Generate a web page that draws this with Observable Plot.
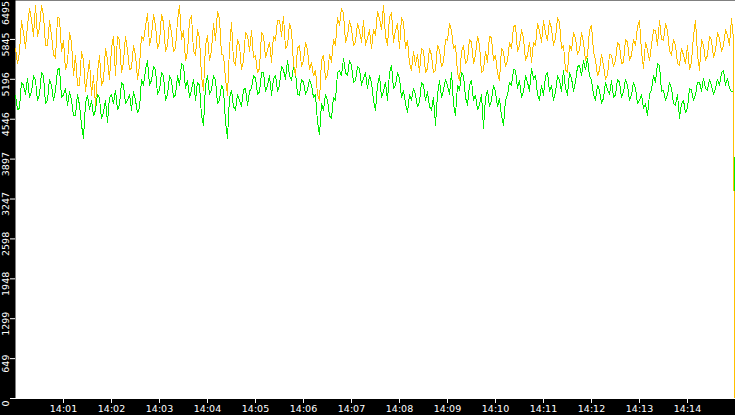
<!DOCTYPE html>
<html><head><meta charset="utf-8">
<script src="https://cdn.jsdelivr.net/npm/d3@7"></script>
<script src="https://cdn.jsdelivr.net/npm/@observablehq/plot@0.6"></script>
<style>html,body{margin:0;padding:0;background:#000;overflow:hidden;} #chart{width:735px;height:415px;}</style>
</head><body><div id="chart"></div>
<script>
const startTime = "14:00:00";
const endTime = "14:15:00";
const stepSeconds = 2.5;
const lastSecond = 899;

const orangeValues = [
  5700,5450,5640,6150,5960,5700,6070,6350,6155,5900,
  6400,5900,6025,6400,6240,5750,5750,6150,5910,5600,
  5540,6200,6190,5650,5830,5350,5475,5950,5800,5250,
  5590,5100,5100,5650,5505,5000,5260,5500,4940,5250,
  4775,5300,5585,5100,5180,5700,5505,5200,5700,5900,
  5260,5900,5830,5300,5475,5900,5670,5350,5375,5750,
  5590,5200,5425,5900,5830,6050,6270,5750,5910,6250,
  6075,5700,5800,6250,6120,5650,5750,6150,5960,5650,
  5700,6150,6400,5850,5990,5500,5635,6150,6235,5650,
  5590,6000,5865,5250,5020,5750,5910,5500,5670,6100,
  5830,6300,6190,5600,5590,5200,4940,5700,6125,5500,
  5425,5850,5750,5350,5505,5950,5910,5650,5990,5550,
  5590,5300,5375,5950,5910,5550,5670,5800,5475,5900,
  5830,6150,6155,5900,6220,5700,5750,6100,5990,5450,
  5260,5700,5750,5400,5505,5800,5670,5350,5475,5250,
  5345,4950,4855,5500,5590,5200,5260,5600,5475,5850,
  5750,6200,6075,6350,6270,5800,5910,6150,6025,5750,
  5800,6100,5990,5800,6155,5750,5865,6000,5700,6000,
  5910,6300,6190,6000,6400,5900,5750,6200,6285,5800,
  5990,6100,5700,6200,6125,5700,5830,5450,5345,5650,
  5425,5600,5310,5700,5670,5300,5375,5700,5590,5300,
  5345,5750,5670,5400,5475,5850,5830,6100,5990,5700,
  5750,5300,5180,5650,5750,5450,5505,5850,5800,5450,
  5590,5900,5750,5300,5345,5650,5475,5900,5865,5500,
  5590,5300,5180,5700,5635,5400,5505,5800,5700,6050,
  6075,5650,5750,6000,5865,5500,5590,5800,5475,5800,
  5750,6100,5990,5800,6155,5950,5830,6150,6025,5750,
  5865,6200,6125,5700,5750,5350,5310,5750,5670,5950,
  5865,5600,5670,5950,5800,5500,5590,6000,6075,5650,
  5505,5250,5345,5600,5425,5200,5260,5600,5590,5400,
  5505,5800,5750,5450,5475,5850,5800,5500,5590,5850,
  5750,6050,6155,5650,5375,5800,5670,5500,5750,6000,
  5990,5750,6155,5850,5830,6100,5990,5650,5590,5850,
  5750,5450,5425,5700,5590,5450,5750,5350,5475,5900,
  6155,5600,5345,5850,5750,5500,5590,5900,5830,5550,
  5670,5950,5865,5650,5750,6000,5910,5750,6190,5850
];
const orangeLast = 0;

const greenValues = [
  4940,4700,4725,5150,5100,4950,5215,4900,4990,5250,
  5180,4850,4940,5300,5260,4800,4855,5200,5100,4850,
  5020,5350,5375,4900,4940,5050,4775,5000,4855,4600,
  4615,4950,4775,4450,4240,4800,4940,4700,4855,4600,
  4695,4950,4890,4550,4660,4850,4500,4900,4940,4800,
  5020,4700,4775,5150,5100,4800,4855,4950,4695,5000,
  4855,4650,4725,5200,5100,5350,5505,5100,5180,5400,
  5345,4950,5020,5300,5260,4850,4940,5250,5180,4900,
  4940,5250,5100,5450,5425,5050,5180,4900,5020,5200,
  4855,5150,5100,4600,4450,5100,5260,4950,5020,5250,
  5180,4800,4855,5100,5020,4500,4240,4900,5020,4750,
  4695,4950,4855,4750,5020,5050,4775,5000,5050,5250,
  5215,4950,4990,5300,5310,5000,5100,5250,4940,5200,
  5260,5000,5100,5400,5345,5200,5505,5250,5180,5400,
  5310,4950,4940,5200,5150,4950,5020,5200,5100,4900,
  4940,4500,4290,4800,4695,4950,4855,4600,4565,4900,
  4855,5300,5345,5250,5540,5300,5260,5500,5425,5150,
  5180,5400,5375,5100,5215,5300,5050,5250,5150,4850,
  4695,5100,5260,4900,4990,5150,4855,5300,5425,5050,
  5100,5300,5215,4900,5020,4800,4660,4950,4855,5050,
  4940,4750,4825,5150,5100,4850,4990,4750,4695,4900,
  4450,4950,5180,4900,5020,5200,5100,4950,5310,4800,
  4610,5100,5020,5300,5260,4900,4775,5100,5180,4850,
  4940,4700,4775,4950,4400,4900,5020,4750,4855,5100,
  4990,4750,4890,4600,4450,4850,4940,5150,5100,5350,
  5345,5050,5180,4900,4990,5250,5150,5000,5375,5200,
  5260,4950,4855,5100,4940,5250,5310,5000,5100,4850,
  4990,5250,5180,5000,5345,5050,4940,5300,5215,5000,
  5150,5400,5425,5250,5505,5350,5540,5250,5180,4950,
  4855,5100,5020,4800,4890,5150,5020,4950,5180,4900,
  4940,5200,5150,4900,4990,5200,5100,4850,4940,5150,
  5050,4800,4855,4950,4725,4800,4610,4950,5020,5250,
  5150,5450,5425,5000,5020,4850,4940,5150,5050,4800,
  4775,4950,4565,4800,4855,4650,4725,5050,5020,4850,
  4940,5150,5150,5000,5215,5050,5020,5200,5100,4950,
  5050,5200,5100,5300,5345,5100,5215,5050,4990,5000
];
const greenLast = 2450;

const yTicks = [0, 649, 1299, 1948, 2598, 3247, 3897, 4546, 5196, 5845, 6495];
const xTickLabels = ["14:01","14:02","14:03","14:04","14:05","14:06","14:07","14:08","14:09","14:10","14:11","14:12","14:13","14:14"];
const colors = {orange: "#ffc000", green: "#00ee00"};

const toDate = s => new Date("2024-01-01T" + s + "Z");
const t0 = toDate(startTime);
function rows(vals, last) {
  const r = vals.map((v, i) => ({t: new Date(+t0 + i * stepSeconds * 1000), v}));
  r.push({t: new Date(+t0 + lastSecond * 1000), v: last});
  return r;
}
const orangeRows = rows(orangeValues, orangeLast);
const greenRows = rows(greenValues, greenLast);
const xTicks = xTickLabels.map(l => toDate(l + ":00"));
const fmt = d3.utcFormat("%H:%M");

const chart = Plot.plot({
  width: 735, height: 415,
  marginLeft: 15, marginRight: 0, marginTop: 0, marginBottom: 17,
  style: {background: "#000", color: "#fff", fontFamily: "DejaVu Sans", fontSize: "9.5px"},
  x: {type: "utc", domain: [t0, toDate(endTime)], range: [15, 735], axis: null},
  y: {domain: [0, 6495], range: [398, -1], axis: null},
  marks: [
    Plot.frame({fill: "#fff", stroke: null}),
    Plot.line(greenRows, {x: "t", y: "v", stroke: colors.green, strokeWidth: 1, shapeRendering: "crispEdges"}),
    Plot.line(orangeRows, {x: "t", y: "v", stroke: colors.orange, strokeWidth: 1, shapeRendering: "crispEdges"}),
    Plot.ruleY([0], {stroke: "#fff"}),
    Plot.axisY(yTicks, {tickSize: 5, tickFormat: () => "", stroke: "#fff", label: null}),
    Plot.text(yTicks.slice(0, -1), {y: d => d, text: d => String(d), frameAnchor: "left", dx: -9.5, dy: 5, rotate: -90, textAnchor: "middle", lineAnchor: "middle", fill: "#fff"}),
    Plot.text(yTicks.slice(-1), {y: d => d, text: d => String(d), frameAnchor: "left", dx: -9.5, dy: 13.5, rotate: -90, textAnchor: "middle", lineAnchor: "middle", fill: "#fff"}),
    Plot.axisX(xTicks, {tickSize: 5, tickPadding: 2, tickFormat: fmt, stroke: "#fff", fill: "#fff", label: null})
  ]
});
document.getElementById("chart").appendChild(chart);
</script>
</body></html>
